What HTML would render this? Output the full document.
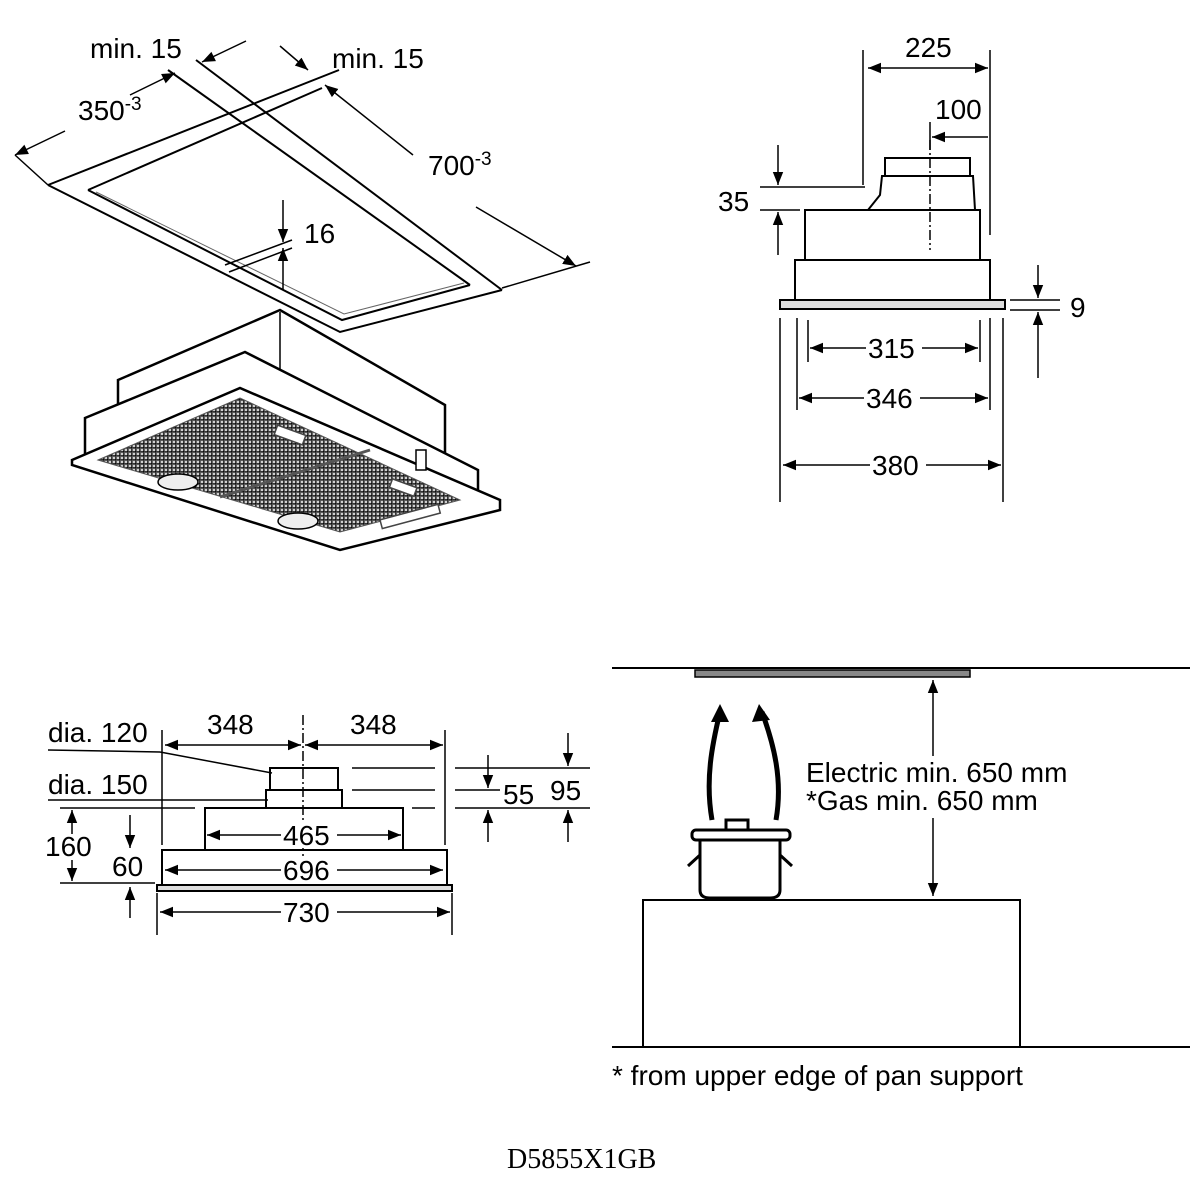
<!DOCTYPE html>
<html><head><meta charset="utf-8"><style>body{margin:0;background:#fff}svg{display:block}</style></head>
<body>
<svg width="1200" height="1200" viewBox="0 0 1200 1200" xmlns="http://www.w3.org/2000/svg" font-family="Liberation Sans, sans-serif" font-size="28" fill="none" stroke="#000" stroke-width="1.5">
<defs>
<marker id="a" viewBox="0 0 10 10" refX="10" refY="5" markerWidth="13" markerHeight="13" orient="auto-start-reverse" markerUnits="userSpaceOnUse"><path d="M0,1 L10,5 L0,9 z" fill="#000" stroke="none"/></marker>
<pattern id="m" width="4" height="4" patternUnits="userSpaceOnUse"><rect width="4" height="4" fill="#d0d0d0"/><path d="M0,0 L4,0 M0,0 L0,4" stroke="#999" stroke-width="0.6"/></pattern>
</defs>
<!-- TOP LEFT: ceiling cutout -->
<line x1="196" y1="60" x2="502" y2="290" stroke-width="2"/>
<line x1="168" y1="70" x2="470" y2="285" stroke-width="2"/>
<line x1="48" y1="185" x2="339" y2="70" stroke-width="2"/>
<line x1="88" y1="190" x2="322" y2="88" stroke-width="2"/>
<polyline points="502,290 340,332 48,185" stroke-width="2"/>
<polyline points="470,285 342,320 88,190" stroke-width="2"/>
<polyline points="464,283 344,314 96,192" stroke="#666" stroke-width="1"/>
<line x1="15" y1="155" x2="65" y2="131" marker-start="url(#a)"/>
<line x1="130" y1="95" x2="175" y2="73" marker-end="url(#a)"/>
<line x1="15" y1="155" x2="48" y2="185"/>
<line x1="246" y1="41" x2="202" y2="62" marker-end="url(#a)"/>
<line x1="280" y1="46" x2="308" y2="70" marker-end="url(#a)"/>
<line x1="325" y1="85" x2="413" y2="155" marker-start="url(#a)"/>
<line x1="476" y1="207" x2="576" y2="266" marker-end="url(#a)"/>
<line x1="502" y1="288" x2="590" y2="262"/>
<text x="90" y="58" fill="#000" stroke="none">min. 15</text>
<text x="332" y="68" fill="#000" stroke="none">min. 15</text>
<text x="78" y="120" fill="#000" stroke="none">350<tspan dy="-10" font-size="19">-3</tspan></text>
<text x="428" y="175" fill="#000" stroke="none">700<tspan dy="-10" font-size="19">-3</tspan></text>
<line x1="225" y1="265" x2="292" y2="240"/>
<line x1="229" y1="272" x2="292" y2="248"/>
<line x1="283" y1="200" x2="283" y2="242" marker-end="url(#a)"/>
<line x1="283" y1="290" x2="283" y2="248" marker-end="url(#a)"/>
<text x="304" y="243" fill="#000" stroke="none">16</text>
<!-- hood -->
<polygon points="118,380 280,310 445,405 445,470 118,420" fill="#fff" stroke-width="2.5"/>
<line x1="280" y1="312" x2="280" y2="398"/>
<polygon points="85,418 245,352 478,470 478,510 85,455" fill="#fff" stroke-width="2.5"/>
<polygon points="72,460 240,388 500,500 500,510 340,550 72,465" fill="#fff" stroke-width="2.5"/>
<polygon points="98,460 240,398 460,500 340,532" fill="url(#m)" stroke="#555" stroke-width="1"/>
<ellipse cx="178" cy="482" rx="20" ry="8" fill="#eee"/>
<ellipse cx="298" cy="521" rx="20" ry="8" fill="#eee"/>
<line x1="220" y1="497" x2="370" y2="450" stroke="#555" stroke-width="3"/>
<rect x="275" y="430" width="30" height="10" fill="#fff" stroke="#444" transform="rotate(20 290 435)"/>
<rect x="390" y="483" width="26" height="9" fill="#fff" stroke="#444" transform="rotate(20 403 488)"/>
<rect x="380" y="512" width="60" height="9" fill="#fff" stroke="#444" transform="rotate(-15 410 516)"/>
<rect x="416" y="450" width="10" height="20" fill="#fff"/>
<!-- TOP RIGHT: side view -->
<line x1="863" y1="50" x2="863" y2="185"/>
<line x1="990" y1="50" x2="990" y2="235"/>
<line x1="930" y1="122" x2="930" y2="150"/>
<line x1="868" y1="68" x2="988" y2="68" marker-start="url(#a)" marker-end="url(#a)"/>
<line x1="932" y1="137" x2="988" y2="137" marker-start="url(#a)"/>
<text x="905" y="57" fill="#000" stroke="none">225</text>
<text x="935" y="119" fill="#000" stroke="none">100</text>
<rect x="885" y="158" width="85" height="18" stroke-width="2"/>
<polygon points="882,176 973,176 975,210 868,210 880,195" stroke-width="2"/>
<rect x="805" y="210" width="175" height="50" stroke-width="2"/>
<rect x="795" y="260" width="195" height="40" stroke-width="2"/>
<rect x="780" y="300" width="225" height="9" fill="#ddd" stroke-width="2"/>
<line x1="930" y1="140" x2="930" y2="250" stroke-dasharray="10,3,2,3"/>
<line x1="760" y1="187" x2="865" y2="187"/>
<line x1="760" y1="210" x2="800" y2="210"/>
<line x1="778" y1="145" x2="778" y2="185" marker-end="url(#a)"/>
<line x1="778" y1="255" x2="778" y2="212" marker-end="url(#a)"/>
<text x="718" y="211" fill="#000" stroke="none">35</text>
<line x1="1010" y1="300" x2="1060" y2="300"/>
<line x1="1010" y1="310" x2="1060" y2="310"/>
<line x1="1038" y1="265" x2="1038" y2="298" marker-end="url(#a)"/>
<line x1="1038" y1="378" x2="1038" y2="312" marker-end="url(#a)"/>
<text x="1070" y="317" fill="#000" stroke="none">9</text>
<line x1="780" y1="318" x2="780" y2="502"/><line x1="1003" y1="318" x2="1003" y2="502"/>
<line x1="797" y1="318" x2="797" y2="410"/><line x1="990" y1="318" x2="990" y2="410"/>
<line x1="808" y1="320" x2="808" y2="362"/><line x1="980" y1="320" x2="980" y2="362"/>
<line x1="810" y1="348" x2="978" y2="348" marker-start="url(#a)" marker-end="url(#a)"/>
<line x1="799" y1="398" x2="988" y2="398" marker-start="url(#a)" marker-end="url(#a)"/>
<line x1="783" y1="465" x2="1001" y2="465" marker-start="url(#a)" marker-end="url(#a)"/>
<rect x="866" y="335" width="56" height="26" fill="#fff" stroke="none"/><text x="868" y="358" fill="#000" stroke="none">315</text>
<rect x="864" y="385" width="56" height="26" fill="#fff" stroke="none"/><text x="866" y="408" fill="#000" stroke="none">346</text>
<rect x="870" y="452" width="56" height="26" fill="#fff" stroke="none"/><text x="872" y="475" fill="#000" stroke="none">380</text>
<!-- BOTTOM LEFT: front view -->
<rect x="270" y="768" width="68" height="22" stroke-width="2"/>
<rect x="266" y="790" width="76" height="18" stroke-width="2"/>
<rect x="205" y="808" width="198" height="42" stroke-width="2"/>
<rect x="162" y="850" width="285" height="35" stroke-width="2"/>
<rect x="157" y="885" width="295" height="6" fill="#ddd" stroke-width="2"/>
<line x1="303" y1="715" x2="303" y2="882" stroke-dasharray="10,3,2,3"/>
<line x1="162" y1="730" x2="162" y2="845"/><line x1="445" y1="730" x2="445" y2="845"/>
<line x1="165" y1="745" x2="301" y2="745" marker-start="url(#a)" marker-end="url(#a)"/>
<line x1="305" y1="745" x2="443" y2="745" marker-start="url(#a)" marker-end="url(#a)"/>
<text x="207" y="734" fill="#000" stroke="none">348</text>
<text x="350" y="734" fill="#000" stroke="none">348</text>
<text x="48" y="742" fill="#000" stroke="none">dia. 120</text>
<line x1="48" y1="750" x2="160" y2="752"/><line x1="160" y1="752" x2="272" y2="773"/>
<text x="48" y="794" fill="#000" stroke="none">dia. 150</text>
<line x1="48" y1="800" x2="268" y2="800"/>
<line x1="60" y1="808" x2="195" y2="808"/>
<line x1="60" y1="883" x2="155" y2="883"/>
<line x1="72" y1="835" x2="72" y2="810" marker-end="url(#a)"/>
<line x1="72" y1="860" x2="72" y2="881" marker-end="url(#a)"/>
<rect x="44" y="834" width="52" height="26" fill="#fff" stroke="none"/>
<text x="45" y="856" fill="#000" stroke="none">160</text>
<line x1="130" y1="815" x2="130" y2="848" marker-end="url(#a)"/>
<line x1="130" y1="918" x2="130" y2="887" marker-end="url(#a)"/>
<text x="112" y="876" fill="#000" stroke="none">60</text>
<line x1="207" y1="835" x2="401" y2="835" marker-start="url(#a)" marker-end="url(#a)"/>
<rect x="281" y="822" width="56" height="26" fill="#fff" stroke="none"/><text x="283" y="845" fill="#000" stroke="none">465</text>
<line x1="165" y1="870" x2="443" y2="870" marker-start="url(#a)" marker-end="url(#a)"/>
<rect x="281" y="857" width="56" height="26" fill="#fff" stroke="none"/><text x="283" y="880" fill="#000" stroke="none">696</text>
<line x1="157" y1="893" x2="157" y2="935"/><line x1="452" y1="893" x2="452" y2="935"/>
<line x1="160" y1="912" x2="450" y2="912" marker-start="url(#a)" marker-end="url(#a)"/>
<rect x="281" y="899" width="56" height="26" fill="#fff" stroke="none"/><text x="283" y="922" fill="#000" stroke="none">730</text>
<line x1="352" y1="768" x2="435" y2="768"/><line x1="352" y1="790" x2="435" y2="790"/><line x1="412" y1="808" x2="435" y2="808"/>
<line x1="455" y1="768" x2="590" y2="768"/><line x1="455" y1="790" x2="500" y2="790"/><line x1="455" y1="808" x2="590" y2="808"/>
<line x1="488" y1="755" x2="488" y2="788" marker-end="url(#a)"/>
<line x1="488" y1="842" x2="488" y2="810" marker-end="url(#a)"/>
<line x1="568" y1="733" x2="568" y2="766" marker-end="url(#a)"/>
<line x1="568" y1="842" x2="568" y2="810" marker-end="url(#a)"/>
<text x="503" y="804" fill="#000" stroke="none">55</text>
<text x="550" y="800" fill="#000" stroke="none">95</text>
<!-- BOTTOM RIGHT: installation -->
<line x1="612" y1="668" x2="1190" y2="668" stroke-width="2"/>
<rect x="695" y="670" width="275" height="7" fill="#888" stroke-width="1.5"/>
<rect x="643" y="900" width="377" height="147" stroke-width="2"/>
<line x1="612" y1="1047" x2="1190" y2="1047" stroke-width="2"/>
<line x1="933" y1="896" x2="933" y2="680" marker-start="url(#a)" marker-end="url(#a)"/>
<rect x="804" y="756" width="268" height="62" fill="#fff" stroke="none"/>
<text x="806" y="782" fill="#000" stroke="none">Electric min. 650 mm</text>
<text x="806" y="810" fill="#000" stroke="none">*Gas min. 650 mm</text>
<path d="M712,820 C705,780 712,745 720,712" stroke-width="5"/>
<path d="M776,820 C783,780 774,745 762,712" stroke-width="5"/>
<path d="M720,704 L711,722 L729,722 z" fill="#000" stroke="none"/>
<path d="M759,704 L752,722 L770,720 z" fill="#000" stroke="none"/>
<path d="M700,840 L700,890 Q700,898 710,898 L770,898 Q780,898 780,890 L780,840" stroke-width="3" fill="#fff"/>
<rect x="692" y="830" width="98" height="10" rx="4" stroke-width="3" fill="#fff"/>
<rect x="726" y="820" width="22" height="10" stroke-width="3" fill="#fff"/>
<path d="M700,855 L688,866 M780,855 L792,866" stroke-width="3"/>
<text x="612" y="1085" fill="#000" stroke="none">* from upper edge of pan support</text>
<text x="507" y="1168" fill="#000" stroke="none" font-family="Liberation Serif, serif" font-size="28">D5855X1GB</text>
</svg>
</body></html>
